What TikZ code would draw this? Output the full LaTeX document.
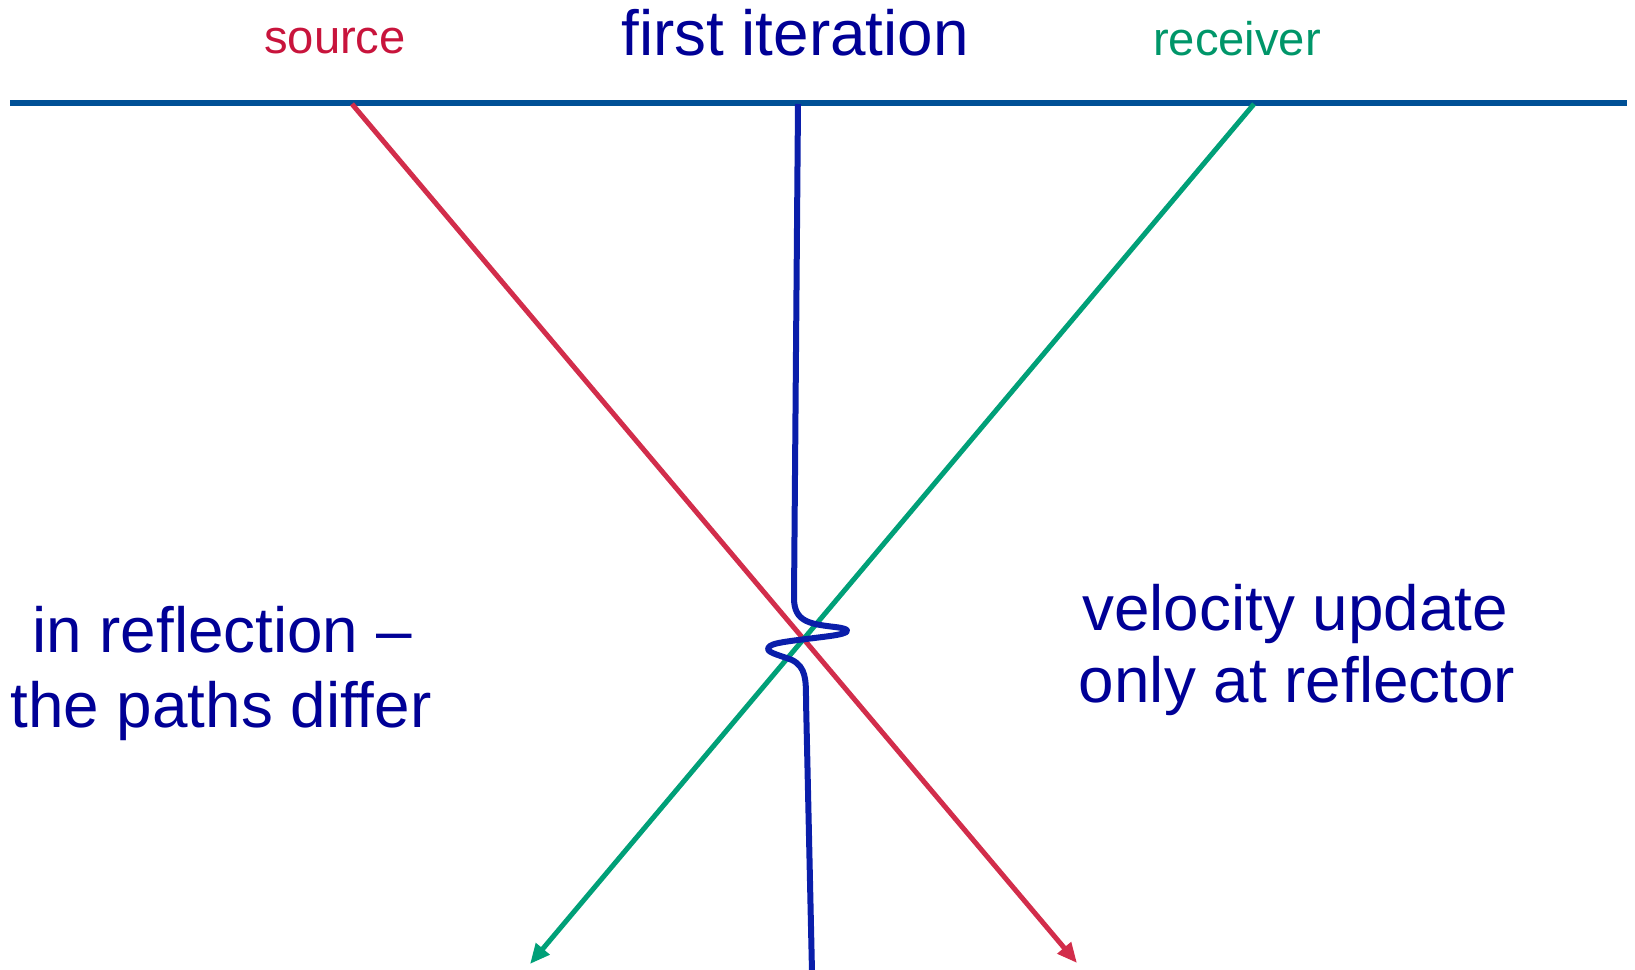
\documentclass[tikz,border=0pt]{standalone}
\usepackage{fontspec}
\setmainfont{Liberation Sans}
\usetikzlibrary{arrows.meta}
\definecolor{srcred}{RGB}{200,20,60}
\definecolor{rayred}{RGB}{210,45,75}
\definecolor{rcvgreen}{RGB}{0,150,105}
\definecolor{raygreen}{RGB}{0,160,120}
\definecolor{surfblue}{RGB}{0,80,150}
\definecolor{wavblue}{RGB}{10,30,170}
\definecolor{txtblue}{RGB}{0,0,150}
\tikzset{
  bigtext/.style={inner sep=0pt, anchor=base, text=txtblue, font=\fontsize{31.9}{37.5}\selectfont},
  smalltext/.style={inner sep=0pt, anchor=base, font=\fontsize{23.6}{28}\selectfont},
  surface/.style={line width=3.3pt, draw=surfblue},
  ray/.style={line width=2.5pt, -{Triangle[length=10pt,width=8.5pt]}},
  wave/.style={line width=3pt, draw=wavblue, line join=round}
}
\begin{document}
\begin{tikzpicture}[x=0.5pt,y=-0.5pt]
\useasboundingbox (0,0) rectangle (1635,970);
% texts
\node[smalltext, text=srcred] (src) at (335,53) {source};
\node[bigtext] (title) at (795,55) {first iteration};
\node[smalltext, text=rcvgreen] (rcv) at (1237,55) {receiver};
\node[bigtext] (left1) at (222,652) {in reflection –};
\node[bigtext] (left2) at (221,727) {the paths differ};
\node[bigtext] (right1) at (1295,630) {velocity update};
\node[bigtext] (right2) at (1297,702) {only at reflector};
% coordinates
\coordinate (sL) at (10,103);
\coordinate (sR) at (1627,103);
\coordinate (sp) at (352,104);
\coordinate (rp) at (1254,104);
\coordinate (redtip) at (1077,963);
\coordinate (greentip) at (530,964);
\coordinate (wtop) at (798,104);
\coordinate (wbot) at (812,972);
% surface
\draw[surface] (sL) -- (sR);
% rays
\draw[ray, draw=rayred, fill=rayred] (sp) -- (redtip);
\draw[ray, draw=raygreen, fill=raygreen] (rp) -- (greentip);
% wavepath
\draw[wave] (wtop) -- (794,598)
  .. controls (794,622) and (810,624) .. (835,627)
  .. controls (852,629) and (852,633) .. (830,636)
  .. controls (800,640) and (775,642) .. (770,646)
  .. controls (762,652) and (780,655) .. (792,660)
  .. controls (806,667) and (806,680) .. (806,700)
  -- (wbot);
\end{tikzpicture}
\end{document}
